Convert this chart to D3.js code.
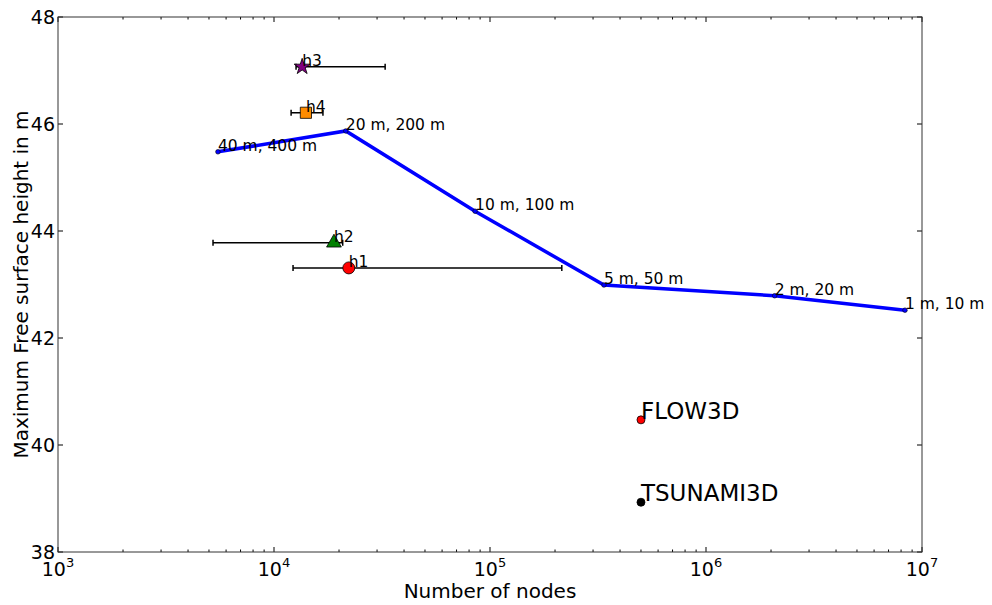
<!DOCTYPE html>
<html>
<head>
<meta charset="utf-8">
<script src="https://cdn.jsdelivr.net/npm/d3@7"></script>
<style>
  body { margin: 0; background: #fff; }
  svg { font-family: "DejaVu Sans", sans-serif; }
</style>
</head>
<body>
<svg id="chart"></svg>
<script>
// resolution series (blue line)
const resLabels = ['40 m, 400 m', '20 m, 200 m', '10 m, 100 m', '5 m, 50 m', '2 m, 20 m', '1 m, 10 m'];
const resNodes = [5500, 21500, 85300, 337000, 2080000, 8340000];
const resHeight = [45.48, 45.87, 44.37, 42.99, 42.79, 42.52];

// h points with horizontal error bars
const hLabels = ['h1', 'h2', 'h3', 'h4'];
const hNodes = [22200, 18950, 13500, 14050];
const hHeight = [43.31, 43.78, 47.07, 46.21];
const hLow = [12250, 5220, 12650, 12000];
const hHigh = [215000, 20800, 32700, 16850];
const hColors = ['red', 'green', 'purple', 'darkorange'];
const hShapes = [d3.symbolCircle, d3.symbolTriangle, d3.symbolStar, d3.symbolSquare];
const hSizes = [113, 95, 80, 125];

// reference codes
const refLabels = ['FLOW3D', 'TSUNAMI3D'];
const refNodes = [500000, 500000];
const refHeight = [40.47, 38.93];
const refColors = ['red', 'black'];

const xTicks = [1e3, 1e4, 1e5, 1e6, 1e7];
const yTicks = [38, 40, 42, 44, 46, 48];

const dimensions = { width: 992, height: 605 };
const margin = { left: 58, right: 70, top: 17, bottom: 53 };
const w = dimensions.width - margin.left - margin.right;
const h = dimensions.height - margin.top - margin.bottom;

const svg = d3.select('#chart')
  .attr('width', dimensions.width)
  .attr('height', dimensions.height);

const g = svg.append('g')
  .attr('transform', `translate(${margin.left},${margin.top})`);

// scales
const x = d3.scaleLog().domain([1e3, 1e7]).range([0, w]);
const y = d3.scaleLinear().domain([38, 48]).range([h, 0]);

// minor ticks
const minor = [];
for (let e = 3; e < 7; e++) for (let m = 2; m < 10; m++) minor.push(m * Math.pow(10, e));

const ticks = g.append('g').attr('stroke', '#000').attr('stroke-width', 1);
xTicks.forEach(t => {
  ticks.append('line').attr('x1', x(t)).attr('x2', x(t)).attr('y1', h).attr('y2', h - 5);
  ticks.append('line').attr('x1', x(t)).attr('x2', x(t)).attr('y1', 0).attr('y2', 5);
});
minor.forEach(t => {
  ticks.append('line').attr('x1', x(t)).attr('x2', x(t)).attr('y1', h).attr('y2', h - 2.5);
  ticks.append('line').attr('x1', x(t)).attr('x2', x(t)).attr('y1', 0).attr('y2', 2.5);
});
yTicks.forEach(t => {
  ticks.append('line').attr('x1', 0).attr('x2', 5).attr('y1', y(t)).attr('y2', y(t));
  ticks.append('line').attr('x1', w).attr('x2', w - 5).attr('y1', y(t)).attr('y2', y(t));
});

// frame
g.append('rect')
  .attr('width', w).attr('height', h)
  .attr('fill', 'none').attr('stroke', '#333').attr('stroke-width', 1);

// x tick labels 10^n
xTicks.forEach(t => {
  const txt = g.append('text')
    .attr('x', x(t)).attr('y', h + 24)
    .attr('text-anchor', 'middle')
    .attr('font-size', 19);
  txt.append('tspan').text('10');
  txt.append('tspan').attr('dy', -9).attr('font-size', 13).text(Math.round(Math.log10(t)));
});

// y tick labels
yTicks.forEach(t => {
  g.append('text')
    .attr('x', -3).attr('y', y(t) + 7)
    .attr('text-anchor', 'end')
    .attr('font-size', 19)
    .text(t);
});

// axis labels
g.append('text')
  .attr('x', w / 2).attr('y', h + 46)
  .attr('text-anchor', 'middle').attr('font-size', 20)
  .text('Number of nodes');
g.append('text')
  .attr('transform', `translate(${-30},${h / 2}) rotate(-90)`)
  .attr('text-anchor', 'middle').attr('font-size', 20)
  .text('Maximum Free surface height in m');

// blue line
const res = resNodes.map((n, i) => ({ n, v: resHeight[i], label: resLabels[i] }));
g.append('path')
  .datum(res)
  .attr('d', d3.line().x(d => x(d.n)).y(d => y(d.v)))
  .attr('fill', 'none').attr('stroke', 'blue').attr('stroke-width', 3.5);
g.selectAll('.res-pt').data(res).enter().append('circle')
  .attr('cx', d => x(d.n)).attr('cy', d => y(d.v)).attr('r', 2.3)
  .attr('fill', 'blue').attr('stroke', '#000').attr('stroke-width', 0.6);
g.selectAll('.res-lab').data(res).enter().append('text')
  .attr('x', d => x(d.n)).attr('y', d => y(d.v) - 1)
  .attr('font-size', 15.5)
  .text(d => d.label);

// error bars + h markers
hNodes.forEach((n, i) => {
  const yy = y(hHeight[i]);
  g.append('line').attr('x1', x(hLow[i])).attr('x2', x(hHigh[i]))
    .attr('y1', yy).attr('y2', yy).attr('stroke', '#000').attr('stroke-width', 1.5);
  [hLow[i], hHigh[i]].forEach(c => {
    g.append('line').attr('x1', x(c)).attr('x2', x(c))
      .attr('y1', yy - 3).attr('y2', yy + 3).attr('stroke', '#000').attr('stroke-width', 1.5);
  });
  g.append('path')
    .attr('d', d3.symbol().type(hShapes[i]).size(hSizes[i])())
    .attr('transform', `translate(${x(n)},${yy})`)
    .attr('fill', hColors[i]).attr('stroke', '#000').attr('stroke-width', 0.8);
  g.append('text')
    .attr('x', x(n)).attr('y', yy - 1)
    .attr('font-size', 15.5)
    .text(hLabels[i]);
});

// reference points
refNodes.forEach((n, i) => {
  g.append('circle')
    .attr('cx', x(n)).attr('cy', y(refHeight[i])).attr('r', 4)
    .attr('fill', refColors[i]).attr('stroke', '#000').attr('stroke-width', 0.8);
  g.append('text')
    .attr('x', x(n)).attr('y', y(refHeight[i]) - 1)
    .attr('font-size', 23)
    .text(refLabels[i]);
});
</script>
</body>
</html>
